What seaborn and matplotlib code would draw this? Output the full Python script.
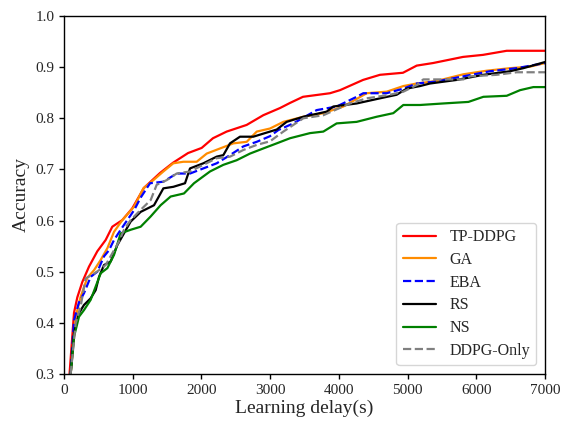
import matplotlib
matplotlib.use("Agg")
import matplotlib.pyplot as plt
import seaborn as sns
import numpy as np

# ---- data ----
tp_x = [75, 146, 194, 267, 364, 485, 606, 703, 849, 994, 1164, 1397, 1586, 1805, 2003, 2168, 2367,
        2658, 2900, 3143, 3289, 3478, 3871, 4017, 4352, 4598, 4933, 5133, 5370, 5807, 6098, 6443, 7000]
tp_y = [0.29, 0.42, 0.45, 0.48, 0.51, 0.54, 0.562, 0.588, 0.601, 0.624, 0.664, 0.693, 0.713, 0.732, 0.742,
        0.761, 0.774, 0.787, 0.806, 0.82, 0.83, 0.842, 0.849, 0.855, 0.875, 0.885, 0.889, 0.903, 0.908,
        0.92, 0.924, 0.932, 0.932]

ga_x = [90, 170, 242, 339, 437, 534, 631, 728, 849, 1019, 1155, 1300, 1446, 1591, 1737, 1931, 2077,
        2271, 2465, 2659, 2805, 2998, 3192, 3483, 3774, 4065, 4405, 4696, 4938, 5133, 5424, 5811, 6151,
        6491, 6782, 7000]
ga_y = [0.29, 0.412, 0.451, 0.488, 0.503, 0.523, 0.546, 0.578, 0.601, 0.627, 0.663, 0.679, 0.696, 0.712,
        0.715, 0.715, 0.731, 0.741, 0.751, 0.754, 0.774, 0.78, 0.793, 0.803, 0.81, 0.823, 0.849, 0.852,
        0.863, 0.868, 0.873, 0.886, 0.893, 0.898, 0.901, 0.908]

eba_x = [90, 146, 218, 291, 388, 485, 582, 655, 728, 825, 921, 1019, 1116, 1252, 1446, 1640, 1834,
         2028, 2222, 2416, 2610, 2805, 2998, 3119, 3337, 3677, 3968, 4259, 4356, 4696, 4938, 5133, 5424,
         5811, 6200, 6588, 7000]
eba_y = [0.29, 0.405, 0.44, 0.458, 0.49, 0.50, 0.53, 0.542, 0.562, 0.582, 0.601, 0.62, 0.645, 0.673,
         0.676, 0.692, 0.692, 0.702, 0.712, 0.728, 0.745, 0.754, 0.765, 0.777, 0.79, 0.816, 0.823, 0.842,
         0.849, 0.849, 0.858, 0.868, 0.872, 0.882, 0.892, 0.898, 0.908]

rs_x = [97, 146, 218, 291, 388, 461, 510, 582, 679, 776, 873, 970, 1116, 1310, 1446, 1591, 1761, 1834,
        2028, 2222, 2319, 2416, 2561, 2755, 2900, 3096, 3240, 3483, 3823, 3919, 4259, 4598, 4841, 4987,
        5181, 5326, 5715, 6103, 6491, 6685, 7000]
rs_y = [0.30, 0.38, 0.419, 0.435, 0.448, 0.464, 0.49, 0.513, 0.52, 0.552, 0.575, 0.598, 0.617, 0.63,
        0.663, 0.666, 0.673, 0.702, 0.712, 0.725, 0.728, 0.751, 0.764, 0.764, 0.77, 0.778, 0.793, 0.803,
        0.813, 0.823, 0.829, 0.839, 0.846, 0.858, 0.863, 0.868, 0.875, 0.885, 0.892, 0.898, 0.91]

ns_x = [97, 146, 218, 291, 388, 461, 534, 631, 728, 825, 970, 1116, 1261, 1406, 1552, 1746, 1892,
        2125, 2319, 2513, 2707, 2900, 3096, 3289, 3580, 3774, 3968, 4259, 4550, 4792, 4938, 5181, 5521,
        5885, 6103, 6443, 6637, 6830, 7000]
ns_y = [0.30, 0.373, 0.412, 0.425, 0.445, 0.471, 0.497, 0.507, 0.533, 0.575, 0.582, 0.588, 0.608, 0.63,
        0.647, 0.653, 0.673, 0.696, 0.709, 0.718, 0.731, 0.741, 0.751, 0.761, 0.771, 0.774, 0.79, 0.793,
        0.803, 0.81, 0.826, 0.826, 0.829, 0.832, 0.842, 0.844, 0.855, 0.861, 0.861]

dd_x = [97, 170, 242, 315, 412, 510, 606, 703, 800, 873, 970, 1116, 1261, 1349, 1494, 1640, 1834, 2028,
        2222, 2416, 2610, 2805, 2998, 3192, 3483, 3774, 4162, 4405, 4744, 4938, 5133, 5229, 5811, 5908,
        6297, 6588, 7000]
dd_y = [0.30, 0.399, 0.432, 0.487, 0.494, 0.503, 0.513, 0.536, 0.559, 0.582, 0.601, 0.621, 0.64, 0.67,
        0.679, 0.692, 0.696, 0.709, 0.722, 0.725, 0.738, 0.748, 0.755, 0.774, 0.80, 0.806, 0.829, 0.839,
        0.846, 0.852, 0.865, 0.876, 0.876, 0.882, 0.885, 0.89, 0.89]

labels = ["TP-DDPG", "GA", "EBA", "RS", "NS", "DDPG-Only"]
xticks = [0, 1000, 2000, 3000, 4000, 5000, 6000, 7000]
yticks = [0.3, 0.4, 0.5, 0.6, 0.7, 0.8, 0.9, 1.0]

# ---- style ----
sns.set_style("ticks")
plt.rcParams["font.family"] = ["Liberation Serif", "DejaVu Serif"]
plt.rcParams["mathtext.fontset"] = "stix"

fig = plt.figure(figsize=(5.63, 4.21), dpi=100)
ax = fig.add_axes([64 / 563, 1 - 374 / 421, (545 - 64) / 563, (374 - 16) / 421])

series = [
    (tp_x, tp_y, "#ff0000", "-"),
    (ga_x, ga_y, "#ff8c00", "-"),
    (eba_x, eba_y, "#0000ff", "--"),
    (rs_x, rs_y, "#000000", "-"),
    (ns_x, ns_y, "#008000", "-"),
    (dd_x, dd_y, "#808080", "--"),
]
for (xs, ys, c, ls), lab in zip(series, labels):
    sns.lineplot(x=np.array(xs), y=np.array(ys), ax=ax, color=c, linestyle=ls,
                 linewidth=1.6, label=lab, estimator=None, sort=False)

ax.set_xlim(0, 7000)
ax.set_ylim(0.3, 1.0)
ax.set_xticks(xticks)
ax.set_yticks(yticks)
ax.set_xticklabels([str(t) for t in xticks])
ax.set_yticklabels([f"{t:.1f}" for t in yticks])
ax.tick_params(axis="both", labelsize=11, direction="out", length=3.5, width=1, color="black")
for s in ax.spines.values():
    s.set_visible(True)
    s.set_color("black")
    s.set_linewidth(1.0)
ax.set_xlabel("Learning delay(s)", fontsize=14, labelpad=2)
ax.set_ylabel("Accuracy", fontsize=14, labelpad=4)

leg = ax.legend(loc="lower right", fontsize=11.5, frameon=True, fancybox=True,
                handlelength=2.1, borderpad=0.4, labelspacing=0.42, borderaxespad=0.55)
leg.get_frame().set_edgecolor("#cccccc")

fig.savefig("out.png", dpi=100)
